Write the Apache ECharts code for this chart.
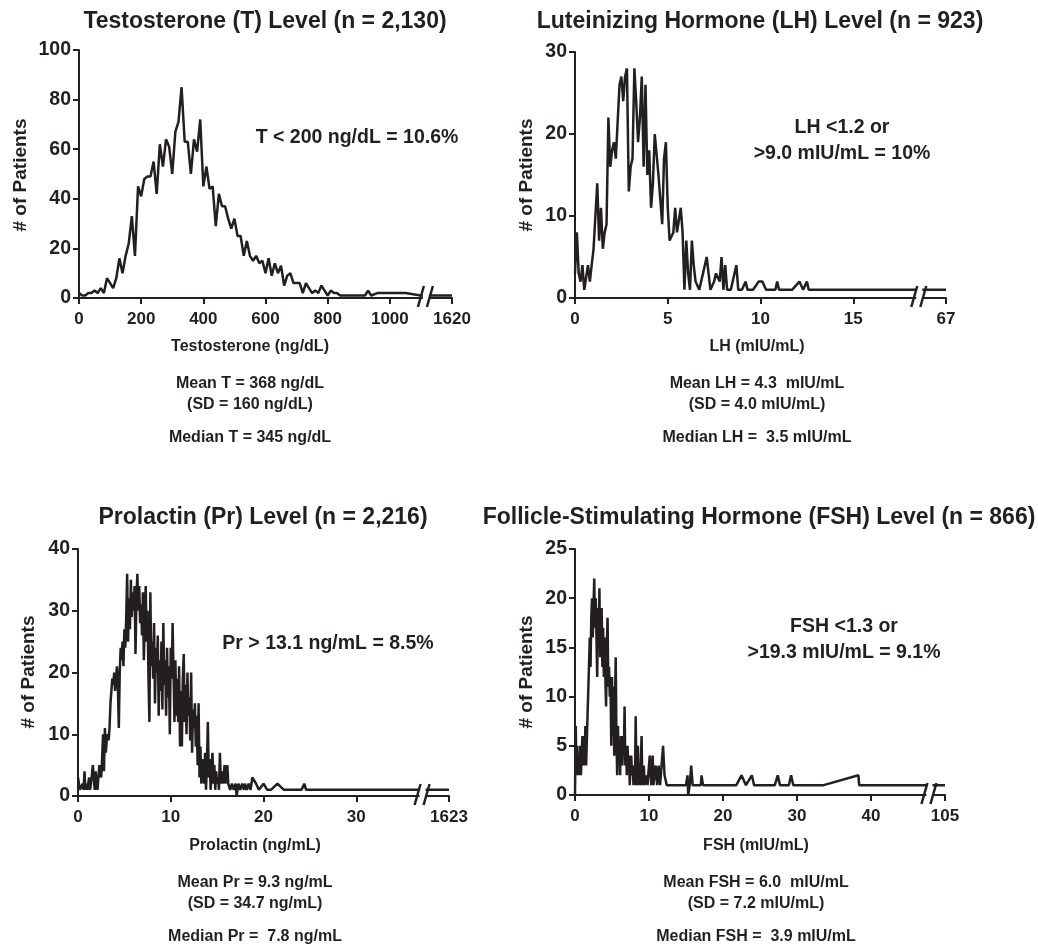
<!DOCTYPE html>
<html>
<head>
<meta charset="utf-8">
<script src="https://cdn.jsdelivr.net/npm/echarts@6/dist/echarts.min.js"></script>
<style>
html, body { margin: 0; padding: 0; background: #fff; }
#main { width: 1038px; height: 952px; }
</style>
</head>
<body>
<div id="main"></div>
<script>
// frequency polygons, [value, # of patients]
var tData = [
    [0, 2], [10, 1], [20, 1], [30, 2], [40, 2], [50, 3], [60, 2], [70, 4], [80, 2], [90, 8],
    [100, 6], [110, 4], [120, 8], [130, 16], [140, 10], [150, 17], [160, 22], [170, 33], [180, 17], [190, 45],
    [200, 41], [210, 48], [220, 49], [230, 49], [240, 55], [250, 42], [260, 62], [270, 53], [280, 64], [290, 61],
    [300, 50], [310, 67], [320, 71], [330, 85], [340, 63], [350, 63], [360, 50], [370, 64], [380, 59], [390, 72],
    [400, 45], [410, 53], [420, 44], [430, 45], [440, 29], [450, 42], [460, 37], [470, 37], [480, 32], [490, 28],
    [500, 32], [510, 25], [520, 25], [530, 17], [540, 23], [550, 17], [560, 15], [570, 17], [580, 14], [590, 15],
    [600, 10], [610, 16], [620, 9], [630, 14], [640, 10], [650, 13], [660, 5], [670, 9], [680, 10], [690, 6],
    [700, 6], [710, 6], [720, 2], [730, 6], [740, 4], [750, 2], [760, 3], [770, 2], [780, 5], [790, 3],
    [800, 1], [810, 3], [820, 2], [830, 2], [840, 1], [880, 1], [920, 1], [930, 3], [940, 1], [960, 2],
    [1050, 2], [1100, 1], [1620, 1]
];
var lhData = [
    [0.0, 3], [0.1, 8], [0.2, 3], [0.3, 2], [0.4, 4], [0.5, 1], [0.6, 1], [0.7, 4], [0.8, 2], [0.9, 4],
    [1.0, 6], [1.1, 6], [1.2, 14], [1.3, 7], [1.4, 11], [1.5, 6], [1.6, 8], [1.7, 9], [1.8, 22], [1.9, 16],
    [2.0, 18], [2.1, 19], [2.2, 17], [2.3, 17], [2.4, 26], [2.5, 27], [2.6, 24], [2.7, 27], [2.8, 28], [2.9, 13],
    [3.0, 16], [3.1, 17], [3.2, 28], [3.3, 24], [3.4, 19], [3.5, 22], [3.6, 27], [3.7, 16], [3.8, 26], [3.9, 15],
    [4.0, 18], [4.1, 11], [4.2, 14], [4.3, 20], [4.4, 20], [4.5, 15], [4.6, 12], [4.7, 9], [4.8, 17], [4.9, 19],
    [5.0, 11], [5.1, 7], [5.2, 7], [5.3, 8], [5.4, 11], [5.5, 8], [5.6, 8], [5.7, 11], [5.8, 8], [5.9, 1],
    [6.0, 7], [6.1, 3], [6.2, 1], [6.3, 7], [6.4, 4], [6.5, 2], [6.6, 2], [6.7, 1], [6.8, 1], [6.9, 3],
    [7.0, 4], [7.1, 5], [7.2, 3], [7.3, 1], [7.4, 1], [7.5, 2], [7.6, 3], [7.7, 3], [7.8, 2], [7.9, 5],
    [8.0, 1], [8.1, 4], [8.2, 1], [8.3, 1], [8.4, 1], [8.6, 3], [8.7, 4], [8.8, 1], [9.0, 1], [9.2, 2],
    [9.3, 1], [9.6, 1], [9.9, 2], [10.1, 2], [10.3, 1], [10.8, 1], [10.9, 2], [11.0, 1], [11.7, 1], [12.1, 2],
    [12.3, 1], [12.5, 2], [12.6, 1], [67, 1]
];
var prData = [
    [0.0, 3], [0.1, 2], [0.2, 1], [0.3, 1], [0.4, 1], [0.5, 2], [0.6, 1], [0.7, 4], [0.8, 1], [0.9, 2],
    [1.0, 1], [1.1, 1], [1.2, 3], [1.3, 1], [1.4, 2], [1.5, 2], [1.6, 5], [1.7, 3], [1.8, 1], [1.9, 4],
    [2.0, 2], [2.1, 1], [2.2, 3], [2.3, 5], [2.4, 5], [2.5, 3], [2.6, 6], [2.7, 10], [2.8, 4], [2.9, 11],
    [3.0, 7], [3.1, 9], [3.2, 10], [3.3, 9], [3.4, 11], [3.5, 15], [3.6, 17], [3.7, 19], [3.8, 18], [3.9, 20],
    [4.0, 17], [4.1, 19], [4.2, 21], [4.3, 18], [4.4, 11], [4.5, 20], [4.6, 24], [4.7, 22], [4.8, 25], [4.9, 21],
    [5.0, 27], [5.1, 24], [5.2, 29], [5.3, 36], [5.4, 25], [5.5, 32], [5.6, 27], [5.7, 35], [5.8, 29], [5.9, 33],
    [6.0, 30], [6.1, 34], [6.2, 23], [6.3, 32], [6.4, 36], [6.5, 30], [6.6, 34], [6.7, 28], [6.8, 31], [6.9, 26],
    [7.0, 33], [7.1, 22], [7.2, 29], [7.3, 34], [7.4, 25], [7.5, 30], [7.6, 19], [7.7, 12], [7.8, 33], [7.9, 21],
    [8.0, 25], [8.1, 19], [8.2, 28], [8.3, 15], [8.4, 24], [8.5, 20], [8.6, 26], [8.7, 13], [8.8, 22], [8.9, 17],
    [9.0, 25], [9.1, 14], [9.2, 28], [9.3, 18], [9.4, 22], [9.5, 13], [9.6, 24], [9.7, 16], [9.8, 21], [9.9, 10],
    [10.0, 24], [10.1, 19], [10.2, 28], [10.3, 20], [10.4, 12], [10.5, 22], [10.6, 13], [10.7, 19], [10.8, 12], [10.9, 21],
    [11.0, 8], [11.1, 17], [11.2, 8], [11.3, 19], [11.4, 23], [11.5, 12], [11.6, 18], [11.7, 10], [11.8, 20], [11.9, 13],
    [12.0, 16], [12.1, 9], [12.2, 20], [12.3, 7], [12.4, 14], [12.5, 11], [12.6, 15], [12.7, 8], [12.8, 13], [12.9, 5],
    [13.0, 15], [13.1, 3], [13.2, 8], [13.3, 2], [13.4, 6], [13.5, 3], [13.6, 2], [13.7, 7], [13.8, 1], [13.9, 5],
    [14.0, 12], [14.1, 3], [14.2, 6], [14.3, 1], [14.4, 4], [14.5, 7], [14.6, 2], [14.7, 5], [14.8, 1], [14.9, 4],
    [15.0, 2], [15.1, 3], [15.2, 1], [15.3, 7], [15.4, 2], [15.5, 4], [15.6, 2], [15.7, 3], [15.8, 5], [15.9, 2],
    [16.0, 2], [16.1, 5], [16.2, 2], [16.3, 2], [16.4, 1], [16.6, 2], [16.8, 1], [17.0, 2], [17.1, 0], [17.3, 2],
    [17.5, 1], [17.7, 2], [17.9, 1], [18.0, 2], [18.2, 1], [18.4, 2], [18.6, 1], [18.8, 3], [19.2, 2], [19.5, 1],
    [20.0, 2], [20.4, 1], [20.8, 1], [21.5, 2], [22.2, 1], [24.1, 1], [24.4, 2], [24.6, 1], [1623, 1]
];
var fshData = [
    [0.0, 0], [0.1, 7], [0.2, 2], [0.3, 5], [0.4, 2], [0.5, 4], [0.6, 2], [0.7, 5], [0.8, 2], [0.9, 4],
    [1.0, 6], [1.1, 3], [1.2, 6], [1.3, 3], [1.4, 7], [1.5, 3], [2.0, 16], [2.1, 13], [2.2, 18], [2.3, 20],
    [2.4, 16], [2.5, 19], [2.6, 22], [2.7, 17], [2.8, 20], [2.9, 16], [3.0, 12], [3.1, 19], [3.2, 15], [3.3, 21],
    [3.4, 14], [3.5, 18], [3.6, 19], [3.7, 13], [3.8, 17], [3.9, 12], [4.0, 16], [4.1, 12], [4.2, 9], [4.3, 15],
    [4.4, 18], [4.5, 11], [4.6, 13], [4.7, 10], [4.8, 12], [4.9, 5], [5.0, 12], [5.1, 6], [5.2, 11], [5.3, 4],
    [5.4, 9], [5.5, 14], [5.6, 6], [5.7, 2], [5.8, 7], [5.9, 4], [6.0, 5], [6.1, 2], [6.2, 6], [6.3, 4],
    [6.4, 3], [6.5, 6], [6.6, 4], [6.7, 9], [6.8, 3], [6.9, 5], [7.0, 2], [7.1, 5], [7.2, 3], [7.3, 4],
    [7.4, 1], [7.5, 3], [7.6, 4], [7.7, 2], [7.8, 3], [7.9, 1], [8.0, 3], [8.1, 1], [8.2, 8], [8.3, 2],
    [8.4, 1], [8.5, 5], [8.6, 1], [8.7, 3], [8.8, 1], [9.0, 6], [9.1, 1], [9.3, 3], [9.4, 1], [9.6, 2],
    [9.8, 1], [10.1, 4], [10.3, 1], [10.5, 4], [10.6, 1], [10.9, 3], [11.1, 1], [11.3, 3], [11.5, 1], [11.9, 5],
    [12.1, 2], [12.4, 1], [15.0, 1], [15.2, 2], [15.3, 0], [15.5, 1], [15.7, 3], [15.9, 1], [17.0, 1], [17.1, 2],
    [17.3, 1], [21.8, 1], [22.5, 2], [23.1, 1], [23.9, 2], [24.2, 1], [27.0, 1], [27.4, 2], [27.7, 1], [28.9, 1],
    [29.2, 2], [29.5, 1], [33.6, 1], [38.3, 2], [38.4, 1], [105, 1]
];

// x tick labels (last one sits past the axis break)
var tTicks = ['0', '200', '400', '600', '800', '1000', '1620'];
var lhTicks = ['0', '5', '10', '15', '67'];
var prTicks = ['0', '10', '20', '30', '1623'];
var fshTicks = ['0', '10', '20', '30', '40', '105'];

var titles = [
    'Testosterone (T) Level (n = 2,130)',
    'Luteinizing Hormone (LH) Level (n = 923)',
    'Prolactin (Pr) Level (n = 2,216)',
    'Follicle-Stimulating Hormone (FSH) Level (n = 866)'
];
var notes = [
    ['T < 200 ng/dL = 10.6%'],
    ['LH <1.2 or', '>9.0 mIU/mL = 10%'],
    ['Pr > 13.1 ng/mL = 8.5%'],
    ['FSH <1.3 or', '>19.3 mIU/mL = 9.1%']
];
var xNames = ['Testosterone (ng/dL)', 'LH (mIU/mL)', 'Prolactin (ng/mL)', 'FSH (mIU/mL)'];
var stats = [
    ['Mean T = 368 ng/dL', '(SD = 160 ng/dL)', 'Median T = 345 ng/dL'],
    ['Mean LH = 4.3  mIU/mL', '(SD = 4.0 mIU/mL)', 'Median LH =  3.5 mIU/mL'],
    ['Mean Pr = 9.3 ng/mL', '(SD = 34.7 ng/mL)', 'Median Pr =  7.8 ng/mL'],
    ['Mean FSH = 6.0  mIU/mL', '(SD = 7.2 mIU/mL)', 'Median FSH =  3.9 mIU/mL']
];

var INK = '#231f20';
var FONT = '"Liberation Sans", Arial, sans-serif';

var panels = [
    { data: tData, ticks: tTicks, xStep: 200, brk: 1116, yMax: 100, yStep: 20,
      grid: { left: 79, top: 50, width: 373, height: 248 },
      titlePos: [265, 22], yNamePos: [21, 175], notePos: [357, 138], textX: 250, textY: 347 },
    { data: lhData, ticks: lhTicks, xStep: 5, brk: 18.56, yMax: 30, yStep: 10,
      grid: { left: 575, top: 52, width: 371, height: 246 },
      titlePos: [760, 22], yNamePos: [527, 175], notePos: [842, 128], textX: 757, textY: 347 },
    { data: prData, ticks: prTicks, xStep: 10, brk: 37.15, yMax: 40, yStep: 10,
      grid: { left: 78, top: 549, width: 371, height: 247 },
      titlePos: [263, 518], yNamePos: [29, 672], notePos: [328, 644], textX: 255, textY: 846 },
    { data: fshData, ticks: fshTicks, xStep: 10, brk: 47.9, yMax: 25, yStep: 5,
      grid: { left: 575, top: 549, width: 370, height: 246 },
      titlePos: [759, 518], yNamePos: [527, 672], notePos: [844, 627], textX: 756, textY: 846 }
];

// values past the break are squeezed into the last segment of the axis
function squeeze(p, x) {
    var xMax = p.xStep * (p.ticks.length - 1);
    var realMax = Number(p.ticks[p.ticks.length - 1]);
    if (x <= p.brk) return x;
    return p.brk + (x - p.brk) / (realMax - p.brk) * (xMax - p.brk);
}

function breakMark(params, api) {
    var c = api.coord([api.value(0), 0]);
    var s = { stroke: INK, lineWidth: 2.5 };
    return {
        type: 'group',
        children: [
            { type: 'rect', shape: { x: c[0] - 3, y: c[1] - 12, width: 6, height: 20 }, style: { fill: '#fff' } },
            { type: 'line', shape: { x1: c[0] - 8, y1: c[1] + 9, x2: c[0] - 2, y2: c[1] - 12 }, style: s },
            { type: 'line', shape: { x1: c[0] + 1, y1: c[1] + 9, x2: c[0] + 7, y2: c[1] - 12 }, style: s }
        ]
    };
}

function txt(str, x, y, size, rotation) {
    return {
        type: 'text', x: x, y: y, rotation: rotation || 0,
        style: { text: str, fill: INK, font: 'bold ' + size + 'px ' + FONT, textAlign: 'center', textVerticalAlign: 'middle' }
    };
}

var grids = [], xAxes = [], yAxes = [], series = [], graphics = [];
panels.forEach(function (p, i) {
    grids.push(p.grid);
    xAxes.push({
        gridIndex: i, type: 'value', min: 0, max: p.xStep * (p.ticks.length - 1), interval: p.xStep,
        axisLine: { lineStyle: { color: INK, width: 2 } },
        axisTick: { length: 6, lineStyle: { color: INK, width: 2 } },
        splitLine: { show: false },
        axisLabel: {
            color: INK, fontSize: 17, fontWeight: 'bold', fontFamily: FONT, margin: 13,
            formatter: (function (ticks, step) {
                return function (v) { return ticks[Math.round(v / step)]; };
            })(p.ticks, p.xStep)
        }
    });
    yAxes.push({
        gridIndex: i, type: 'value', min: 0, max: p.yMax, interval: p.yStep,
        axisLine: { show: true, lineStyle: { color: INK, width: 2 } },
        axisTick: { show: true, length: 6, lineStyle: { color: INK, width: 2 } },
        splitLine: { show: false },
        axisLabel: { color: INK, fontSize: 19.5, fontWeight: 'bold', fontFamily: FONT, margin: 8 }
    });
    series.push({
        type: 'line', xAxisIndex: i, yAxisIndex: i, symbol: 'none', animation: false,
        lineStyle: { color: INK, width: 2.5 },
        data: p.data.map(function (d) { return [squeeze(p, d[0]), d[1]]; })
    });
    series.push({
        type: 'custom', xAxisIndex: i, yAxisIndex: i, z: 10, clip: false, animation: false,
        renderItem: breakMark, data: [[p.brk, 0]]
    });

    graphics.push(txt(titles[i], p.titlePos[0], p.titlePos[1], 23));
    graphics.push(txt('# of Patients', p.yNamePos[0], p.yNamePos[1], 19, Math.PI / 2));
    notes[i].forEach(function (line, k) {
        graphics.push(txt(line, p.notePos[0], p.notePos[1] + k * 26, 19.5));
    });
    graphics.push(txt(xNames[i], p.textX, p.textY, 16));
    graphics.push(txt(stats[i][0], p.textX, p.textY + 37, 16));
    graphics.push(txt(stats[i][1], p.textX, p.textY + 58, 16));
    graphics.push(txt(stats[i][2], p.textX, p.textY + 91, 16));
});

var myChart = echarts.init(document.getElementById('main'));
myChart.setOption({
    backgroundColor: '#fff',
    animation: false,
    grid: grids,
    xAxis: xAxes,
    yAxis: yAxes,
    series: series,
    graphic: graphics
});
</script>
</body>
</html>
